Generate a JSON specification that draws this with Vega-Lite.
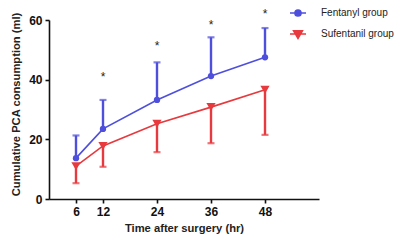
{
  "$schema": "https://vega.github.io/schema/vega-lite/v6.json",
  "width": 270,
  "height": 179,
  "autosize": {"type": "none"},
  "padding": {"left": 49, "top": 20, "right": 76, "bottom": 44},
  "background": "white",
  "config": {
    "view": {"stroke": null},
    "font": "Liberation Sans",
    "axis": {"grid": false, "domainColor": "#111", "domainWidth": 1.6, "tickColor": "#111", "tickWidth": 1.6, "tickSize": 4, "labelFont": "Liberation Sans", "labelFontWeight": "bold", "labelFontSize": 12, "labelColor": "#111", "titleFont": "Liberation Sans", "titleFontWeight": "bold", "titleFontSize": 11.2, "titleColor": "#222"}
  },
  "datasets": {
    "series": [
      {"time": 6, "group": "Fentanyl group", "mean": 13.7, "bound": 21.3},
      {"time": 12, "group": "Fentanyl group", "mean": 23.5, "bound": 33.2},
      {"time": 24, "group": "Fentanyl group", "mean": 33.2, "bound": 45.8},
      {"time": 36, "group": "Fentanyl group", "mean": 41.2, "bound": 54.2},
      {"time": 48, "group": "Fentanyl group", "mean": 47.5, "bound": 57.3},
      {"time": 6, "group": "Sufentanil group", "mean": 11.0, "bound": 5.3},
      {"time": 12, "group": "Sufentanil group", "mean": 17.8, "bound": 10.8},
      {"time": 24, "group": "Sufentanil group", "mean": 25.2, "bound": 15.7},
      {"time": 36, "group": "Sufentanil group", "mean": 30.8, "bound": 18.7},
      {"time": 48, "group": "Sufentanil group", "mean": 36.6, "bound": 21.5}
    ],
    "stars": [
      {"time": 12, "y": 41.9, "label": "*"},
      {"time": 24, "y": 52.2, "label": "*"},
      {"time": 36, "y": 59.3, "label": "*"},
      {"time": 48, "y": 63.1, "label": "*"}
    ]
  },
  "layer": [
    {
      "data": {"name": "series"},
      "mark": {"type": "rule", "strokeWidth": 2.4},
      "encoding": {
        "x": {"field": "time", "type": "quantitative", "scale": {"domain": [0, 60], "nice": false}, "axis": {"values": [6, 12, 24, 36, 48], "title": "Time after surgery (hr)", "titlePadding": 5, "labelPadding": 3}},
        "y": {"field": "mean", "type": "quantitative", "scale": {"domain": [0, 60], "nice": false}, "axis": {"values": [0, 20, 40, 60], "title": "Cumulative PCA consumption (ml)", "titlePadding": 7, "labelPadding": 3, "titleY": 84}},
        "y2": {"field": "bound"},
        "color": {"field": "group", "type": "nominal", "scale": {"domain": ["Fentanyl group", "Sufentanil group"], "range": ["#4e4fdc", "#e63a3f"]}, "legend": {
          "title": null, "orient": "none", "legendX": 240, "legendY": -16, "padding": 0,
          "symbolSize": 256, "symbolStrokeWidth": 1.6, "rowPadding": 5, "labelOffset": 14,
          "labelFont": "Liberation Sans", "labelFontSize": 10, "labelColor": "#222",
          "encode": {"symbols": {"update": {
            "shape": {"signal": "datum.value == 'Fentanyl group' ? 'M-1,0H1M-0.38,0A0.38,0.38 0 1,0 0.38,0A0.38,0.38 0 1,0 -0.38,0' : 'M-1,0H1M-0.55,-0.4L0.55,-0.4L0,0.55Z'"},
            "fill": {"signal": "datum.value == 'Fentanyl group' ? '#4e4fdc' : '#e63a3f'"},
            "stroke": {"signal": "datum.value == 'Fentanyl group' ? '#4e4fdc' : '#e63a3f'"},
            "strokeWidth": {"value": 1.6},
            "opacity": {"value": 1}
          }}}
        }}
      }
    },
    {
      "data": {"name": "series"},
      "mark": {"type": "tick", "orient": "horizontal", "size": 7, "thickness": 2.2},
      "encoding": {
        "x": {"field": "time", "type": "quantitative"},
        "y": {"field": "bound", "type": "quantitative"},
        "color": {"field": "group", "type": "nominal"}
      }
    },
    {
      "data": {"name": "series"},
      "mark": {"type": "line", "strokeWidth": 1.6},
      "encoding": {
        "x": {"field": "time", "type": "quantitative"},
        "y": {"field": "mean", "type": "quantitative"},
        "color": {"field": "group", "type": "nominal"}
      }
    },
    {
      "data": {"name": "series"},
      "transform": [{"filter": "datum.group == 'Fentanyl group'"}],
      "mark": {"type": "point", "filled": true, "opacity": 1, "shape": "circle", "size": 40},
      "encoding": {
        "x": {"field": "time", "type": "quantitative"},
        "y": {"field": "mean", "type": "quantitative"},
        "color": {"field": "group", "type": "nominal"}
      }
    },
    {
      "data": {"name": "series"},
      "transform": [{"filter": "datum.group == 'Sufentanil group'"}],
      "mark": {"type": "point", "filled": true, "opacity": 1, "shape": "triangle-down", "size": 85},
      "encoding": {
        "x": {"field": "time", "type": "quantitative"},
        "y": {"field": "mean", "type": "quantitative"},
        "color": {"field": "group", "type": "nominal"}
      }
    },
    {
      "data": {"name": "stars"},
      "mark": {"type": "text", "fontSize": 12, "font": "Liberation Sans", "color": "#222", "baseline": "middle", "dy": 3},
      "encoding": {
        "x": {"field": "time", "type": "quantitative"},
        "y": {"field": "y", "type": "quantitative"},
        "text": {"field": "label"}
      }
    }
  ]
}
